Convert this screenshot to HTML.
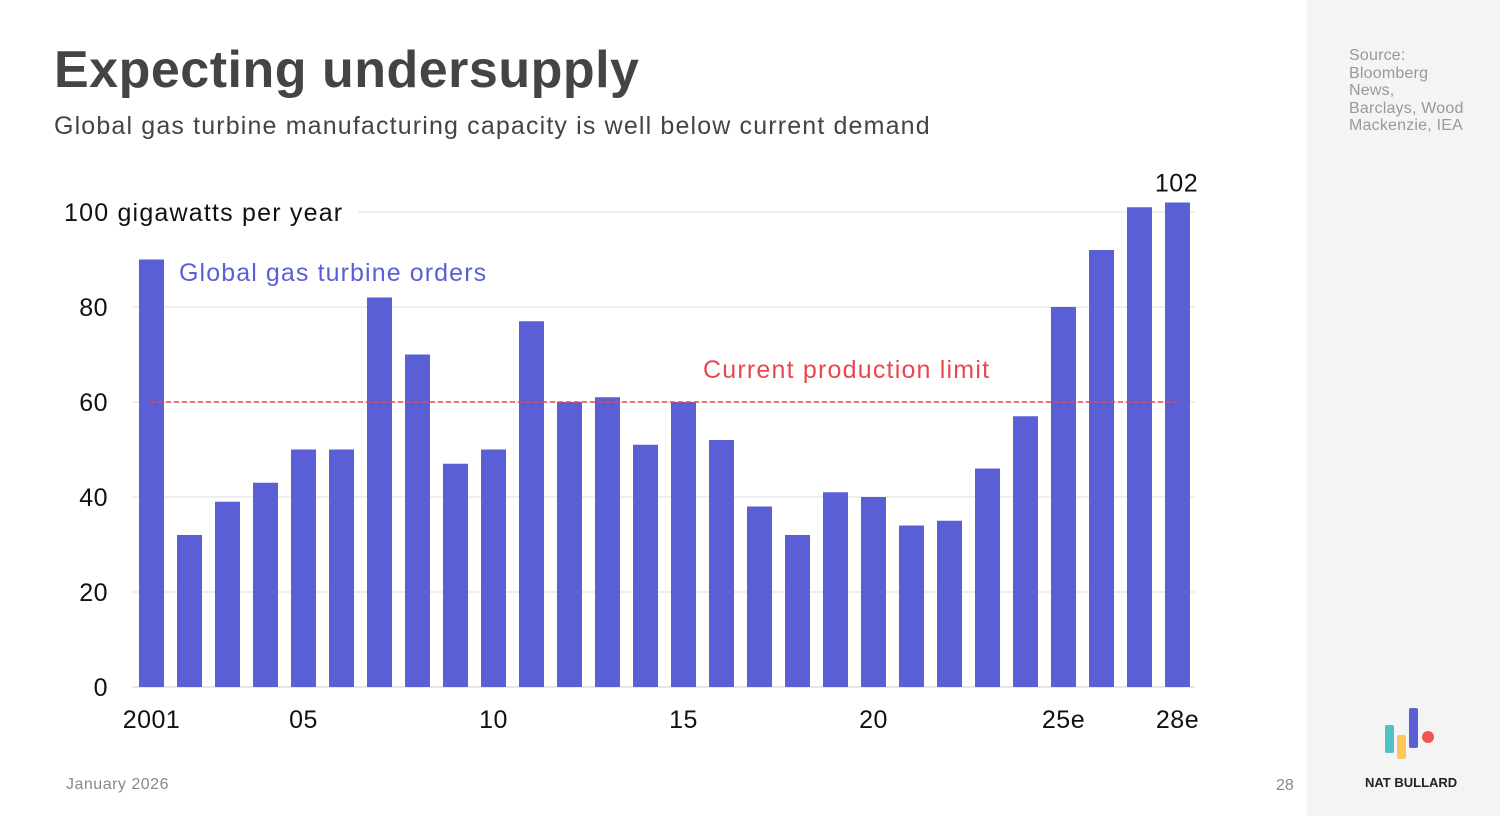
<!DOCTYPE html>
<html><head><meta charset="utf-8">
<style>
body{margin:0;width:1500px;height:816px;background:#fff;font-family:"Liberation Sans",sans-serif;position:relative;overflow:hidden}
.sb{position:absolute;left:1307px;top:0;width:193px;height:816px;background:#f4f4f4}
.t{position:absolute;white-space:nowrap}
</style></head><body>
<div class="sb"></div>
<div class="t" style="left:54px;top:40px;font-size:52px;font-weight:bold;color:#444;letter-spacing:0.5px">Expecting undersupply</div>
<div class="t" style="left:54px;top:112px;font-size:25px;color:#444;letter-spacing:1.15px">Global gas turbine manufacturing capacity is well below current demand</div>
<div class="t" style="left:1349px;top:47px;font-size:16px;line-height:17.5px;color:#999;letter-spacing:0.2px">Source:<br>Bloomberg<br>News,<br>Barclays, Wood<br>Mackenzie, IEA</div>
<div class="t" style="left:66px;top:776px;font-size:16px;color:#888;letter-spacing:0.5px">January 2026</div>
<div class="t" style="left:1276px;top:777px;font-size:16px;color:#888">28</div>
<svg style="position:absolute;left:1380px;top:705px" width="60" height="60">
<rect x="5" y="20" width="9" height="28" rx="2" fill="#4fc1c6"/>
<rect x="17" y="30" width="9" height="24" rx="2" fill="#fcc65a"/>
<rect x="29" y="3" width="9" height="40" rx="2" fill="#5a5fd6"/>
<circle cx="48" cy="32" r="6" fill="#f05555"/>
</svg>
<div class="t" style="left:1365px;top:775px;font-size:13px;font-weight:bold;color:#222">NAT BULLARD</div>
<svg id="chart" style="position:absolute;left:0;top:0" width="1307" height="816"></svg>
<script>
const years=['2001','02','03','04','05','06','07','08','09','10','11','12','13','14','15','16','17','18','19','20','21','22','23','24','25e','26e','27e','28e'];
const orders=[90,32,39,43,50,50,82,70,47,50,77,60,61,51,60,52,38,32,41,40,34,35,46,57,80,92,101,102];
const yTicks=[0,20,40,60,80,100];
const xLabelIdx=[0,4,9,14,19,24,27];
const xLabelText=['2001','05','10','15','20','25e','28e'];
const limit=60;
const NS='http://www.w3.org/2000/svg';
const svg=document.getElementById('chart');
const y=v=>687-v*4.75;
const x=i=>139+i*38;
const bw=25;
function mk(t,a,txt){const e=document.createElementNS(NS,t);for(const k in a)e.setAttribute(k,a[k]);if(txt!==undefined)e.textContent=txt;svg.appendChild(e);return e;}
yTicks.forEach(v=>{
  const g=mk('line',{x1:v===100?358:132,x2:1195,y1:y(v),y2:y(v),stroke:v===0?'#ccc':'#ddd','stroke-width':1});
  
  
  const l=mk('text',{x:v===100?64:108,y:y(v)+9,'font-size':25,fill:'#111','text-anchor':v===100?'start':'end','letter-spacing':v===100?1.2:0.5},v===100?'100 gigawatts per year':String(v));
  
  
});
orders.forEach((v,i)=>{
  const r=mk('rect',{x:x(i),y:y(v),width:bw,height:y(0)-y(v),fill:'#5a5fd6'});
  
  
});
xLabelIdx.forEach((idx,k)=>{
  const t=mk('text',{x:x(idx)+bw/2,y:728,'font-size':25,fill:'#111','text-anchor':'middle','letter-spacing':0.5},xLabelText[k]);
  
  
});
const last=orders.length-1;
const vl=mk('text',{x:x(last)+bw/2-1,y:y(orders[last])-11,'font-size':25,fill:'#111','text-anchor':'middle','letter-spacing':0.5},String(orders[last]));


const ll=mk('line',{x1:150,x2:1177,y1:y(limit),y2:y(limit),stroke:'#e8474f','stroke-width':1.5,'stroke-dasharray':'5,3'});


const lt=mk('text',{x:703,y:378,'font-size':25,fill:'#e8474f','letter-spacing':1.2},'Current production limit');


const st=mk('text',{x:179,y:281,'font-size':25,fill:'#5a5fd6','letter-spacing':1.1},'Global gas turbine orders');


</script>
</body></html>
